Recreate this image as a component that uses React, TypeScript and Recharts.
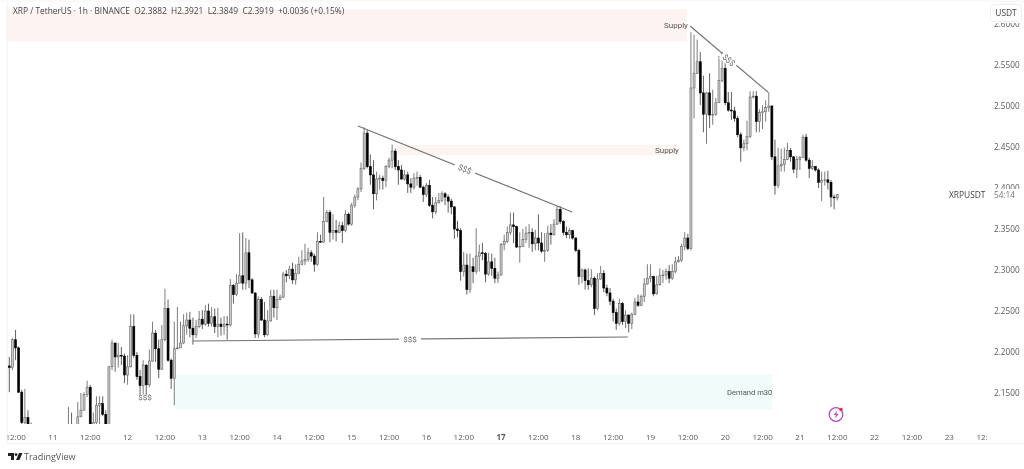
import { Bar, ComposedChart, ReferenceArea, ReferenceLine, XAxis, YAxis } from 'recharts'

// hourly candles, first one is 2h before the "12:00" tick on the 10th
const firstHour = -2
const firstOpen = 2.183

const closes = [
  2.181,2.215,2.205,2.151,2.114,2.120,2.107,2.099,2.085,2.070,
  2.060,2.055,2.065,2.075,2.070,2.080,2.085,2.090,2.095,2.105,
  2.104,2.107,2.121,2.129,2.148,2.157,2.110,2.114,2.135,2.137,
  2.124,2.110,2.182,2.211,2.194,2.196,2.195,2.172,2.182,2.231,
  2.196,2.170,2.159,2.184,2.160,2.189,2.223,2.204,2.179,2.215,
  2.253,2.190,2.168,2.204,2.205,2.211,2.232,2.239,2.229,2.221,
  2.231,2.240,2.234,2.250,2.235,2.243,2.231,2.234,2.231,2.234,
  2.233,2.281,2.270,2.284,2.293,2.284,2.321,2.288,2.272,2.222,
  2.264,2.239,2.221,2.238,2.268,2.254,2.264,2.267,2.295,2.293,
  2.301,2.288,2.296,2.307,2.311,2.313,2.321,2.317,2.307,2.335,
  2.334,2.359,2.370,2.346,2.348,2.346,2.354,2.348,2.368,2.356,
  2.379,2.389,2.399,2.424,2.467,2.426,2.416,2.393,2.411,2.412,
  2.409,2.426,2.434,2.445,2.426,2.422,2.411,2.416,2.405,2.401,
  2.412,2.413,2.401,2.392,2.403,2.379,2.371,2.382,2.385,2.393,
  2.389,2.384,2.377,2.350,2.348,2.298,2.306,2.276,2.304,2.298,
  2.317,2.321,2.320,2.295,2.310,2.302,2.290,2.294,2.331,2.335,
  2.346,2.355,2.353,2.328,2.329,2.337,2.345,2.346,2.332,2.339,
  2.333,2.323,2.324,2.345,2.343,2.356,2.374,2.359,2.346,2.343,
  2.348,2.339,2.324,2.292,2.300,2.287,2.282,2.290,2.253,2.289,
  2.296,2.278,2.272,2.262,2.248,2.235,2.259,2.237,2.245,2.235,
  2.246,2.261,2.257,2.268,2.283,2.290,2.292,2.271,2.282,2.293,
  2.294,2.298,2.290,2.298,2.310,2.312,2.329,2.339,2.326,2.522,
  2.540,2.554,2.516,2.490,2.516,2.489,2.490,2.504,2.531,2.546,
  2.504,2.495,2.494,2.485,2.465,2.449,2.454,2.463,2.511,2.512,
  2.481,2.492,2.493,2.498,2.500,2.438,2.403,2.427,2.429,2.435,
  2.446,2.438,2.423,2.435,2.437,2.462,2.434,2.424,2.426,2.422,
  2.407,2.409,2.410,2.407,2.389,2.388,2.3919,
]

const highs = [
  2.194,2.217,2.227,2.207,2.154,2.155,2.129,2.114,2.095,2.080,
  2.070,2.065,2.072,2.080,2.078,2.085,2.090,2.095,2.100,2.133,
  2.126,2.108,2.139,2.150,2.151,2.165,2.160,2.126,2.146,2.146,
  2.146,2.129,2.183,2.215,2.211,2.211,2.206,2.198,2.196,2.246,
  2.246,2.200,2.178,2.190,2.185,2.203,2.237,2.227,2.215,2.233,
  2.277,2.264,2.192,2.237,2.255,2.237,2.246,2.248,2.249,2.242,
  2.239,2.250,2.251,2.257,2.259,2.255,2.253,2.254,2.242,2.244,
  2.244,2.289,2.283,2.295,2.345,2.346,2.339,2.337,2.290,2.273,
  2.268,2.267,2.261,2.251,2.276,2.276,2.276,2.270,2.298,2.300,
  2.305,2.309,2.307,2.316,2.324,2.332,2.327,2.324,2.320,2.346,
  2.343,2.389,2.373,2.373,2.368,2.361,2.359,2.359,2.373,2.370,
  2.382,2.392,2.401,2.431,2.474,2.471,2.441,2.434,2.420,2.416,
  2.415,2.428,2.437,2.453,2.448,2.434,2.428,2.422,2.420,2.412,
  2.418,2.420,2.416,2.403,2.406,2.410,2.389,2.389,2.394,2.396,
  2.395,2.392,2.387,2.378,2.360,2.351,2.322,2.320,2.320,2.315,
  2.351,2.331,2.333,2.322,2.321,2.320,2.315,2.298,2.333,2.343,
  2.353,2.370,2.370,2.354,2.346,2.350,2.353,2.356,2.351,2.349,
  2.368,2.346,2.345,2.354,2.356,2.362,2.378,2.378,2.361,2.353,
  2.351,2.349,2.340,2.326,2.302,2.302,2.302,2.301,2.292,2.296,
  2.305,2.300,2.282,2.278,2.265,2.253,2.265,2.261,2.251,2.246,
  2.248,2.266,2.270,2.270,2.290,2.307,2.307,2.293,2.293,2.302,
  2.300,2.302,2.306,2.307,2.316,2.317,2.332,2.346,2.344,2.590,
  2.587,2.581,2.566,2.537,2.517,2.540,2.520,2.510,2.561,2.566,
  2.556,2.517,2.517,2.499,2.488,2.468,2.459,2.482,2.518,2.518,
  2.518,2.496,2.501,2.507,2.517,2.501,2.459,2.449,2.448,2.449,
  2.455,2.449,2.439,2.439,2.439,2.465,2.466,2.437,2.434,2.427,
  2.424,2.420,2.420,2.421,2.410,2.392,2.3921,
]

const lows = [
  2.151,2.178,2.190,2.150,2.112,2.107,2.105,2.096,2.075,2.055,
  2.050,2.045,2.055,2.060,2.060,2.070,2.075,2.080,2.085,2.102,
  2.102,2.102,2.110,2.121,2.129,2.145,2.107,2.110,2.110,2.112,
  2.122,2.107,2.107,2.178,2.176,2.181,2.184,2.162,2.160,2.181,
  2.193,2.166,2.148,2.148,2.148,2.157,2.188,2.188,2.168,2.178,
  2.213,2.188,2.155,2.135,2.203,2.205,2.210,2.221,2.218,2.209,
  2.217,2.229,2.228,2.232,2.231,2.231,2.223,2.218,2.220,2.221,
  2.215,2.231,2.259,2.268,2.284,2.276,2.276,2.278,2.271,2.217,
  2.217,2.238,2.218,2.220,2.237,2.242,2.239,2.263,2.266,2.285,
  2.289,2.283,2.282,2.295,2.306,2.306,2.310,2.310,2.298,2.305,
  2.333,2.333,2.358,2.334,2.337,2.335,2.345,2.333,2.346,2.354,
  2.354,2.376,2.385,2.395,2.422,2.424,2.404,2.374,2.385,2.398,
  2.398,2.401,2.424,2.424,2.422,2.404,2.410,2.409,2.394,2.394,
  2.398,2.403,2.400,2.383,2.389,2.377,2.363,2.368,2.381,2.383,
  2.379,2.370,2.368,2.338,2.340,2.287,2.292,2.270,2.272,2.284,
  2.295,2.298,2.312,2.285,2.293,2.293,2.284,2.284,2.293,2.324,
  2.333,2.343,2.333,2.327,2.309,2.328,2.333,2.327,2.322,2.324,
  2.324,2.321,2.310,2.322,2.331,2.342,2.355,2.356,2.342,2.339,
  2.338,2.337,2.322,2.282,2.284,2.276,2.276,2.279,2.245,2.251,
  2.288,2.273,2.268,2.257,2.237,2.227,2.232,2.233,2.229,2.224,
  2.228,2.245,2.255,2.256,2.261,2.282,2.285,2.268,2.270,2.281,
  2.284,2.288,2.284,2.288,2.296,2.309,2.310,2.324,2.324,2.324,
  2.485,2.539,2.501,2.468,2.454,2.473,2.477,2.488,2.504,2.529,
  2.501,2.493,2.483,2.481,2.462,2.432,2.445,2.446,2.461,2.509,
  2.468,2.468,2.472,2.481,2.493,2.434,2.392,2.400,2.420,2.420,
  2.434,2.432,2.418,2.412,2.422,2.437,2.432,2.412,2.422,2.420,
  2.400,2.384,2.403,2.398,2.377,2.374,2.3849,
]

const priceTicks = [2.15, 2.2, 2.25, 2.3, 2.35, 2.4, 2.45, 2.5, 2.55, 2.6]
const timeLabels = [
  '12:00', '11', '12:00', '12', '12:00', '13', '12:00', '14', '12:00', '15', '12:00', '16', '12:00', '17',
  '12:00', '18', '12:00', '19', '12:00', '20', '12:00', '21', '12:00', '22', '12:00', '23', '12:00',
]
const timeTicks = timeLabels.map((_, i) => i * 12)

// [fromHour, toHour, lowPrice, highPrice]
const supplyTop = [-2.76, 215.7, 2.579, 2.618]
const supplyMid = [122.5, 212.8, 2.4403, 2.4525]
const demand = [51.2, 243, 2.1305, 2.172]

// [hour, price, hour, price]
const trendMid = [110, 2.4756, 178.8, 2.3707]
const trendTop = [216.7, 2.5976, 241.7, 2.5171]
const trendLow = [57, 2.2134, 196.7, 2.2183]

const candles = closes.map((close, i) => ({
  hour: firstHour + i,
  open: i === 0 ? firstOpen : closes[i - 1],
  high: highs[i],
  low: lows[i],
  close,
}))

const FONT = '"Open Sans", sans-serif'
const NOTE_FONT = 'Roboto, sans-serif'
const GREY = '#5a5a5a'

function Candle(props: any) {
  const { x, width, y, height, payload } = props
  const { open, high, low, close } = payload
  const cx = x + width / 2
  const perPrice = height / (high - low)
  const top = y + (high - Math.max(open, close)) * perPrice
  const bodyHeight = Math.max(Math.abs(open - close) * perPrice, 0.8)
  const up = close >= open
  return (
    <g>
      <line x1={cx} x2={cx} y1={y} y2={y + height} stroke={up ? '#7c7c7c' : '#606060'} strokeWidth={1} />
      <rect
        x={cx - 1}
        y={top}
        width={2}
        height={bodyHeight}
        fill={up ? '#cccccc' : '#000'}
        stroke={up ? '#666' : '#000'}
        strokeWidth={0.6}
      />
    </g>
  )
}

function TimeTick({ x, y, payload, index }: any) {
  const label = timeLabels[index]
  return (
    <text x={x} y={y + 8} textAnchor="middle" fontSize={8} fontFamily={FONT} fill={GREY} fontWeight={label === '17' ? 700 : 400}>
      {payload ? label : ''}
    </text>
  )
}

function Note({ x, y, text, angle = 0, gap = 0 }: { x: number; y: number; text: string; angle?: number; gap?: number }) {
  return (
    <g transform={`rotate(${angle} ${x} ${y})`}>
      {gap > 0 && <rect x={x - gap / 2} y={y - 5} width={gap} height={10} fill="#fff" />}
      <text x={x} y={y + 3} textAnchor="middle" fontSize={8} fontFamily={NOTE_FONT} fill="#666">
        {text}
      </text>
    </g>
  )
}

export default function App() {
  return (
    <div style={{ position: 'fixed', left: 0, top: 0, width: 1024, height: 469, background: '#fff', overflow: 'hidden', filter: 'blur(0.4px)' }}>
      <ComposedChart width={1024} height={469} data={candles} margin={{ top: 5, right: 0, bottom: 0, left: 7 }}>
        <ReferenceArea x1={supplyTop[0]} x2={supplyTop[1]} y1={supplyTop[2]} y2={supplyTop[3]} fill="#fdf4f2" fillOpacity={1} stroke="none" />
        <ReferenceArea x1={supplyMid[0]} x2={supplyMid[1]} y1={supplyMid[2]} y2={supplyMid[3]} fill="#fdf4f2" fillOpacity={1} stroke="none" />
        <ReferenceArea x1={demand[0]} x2={demand[1]} y1={demand[2]} y2={demand[3]} fill="#f0fbfa" fillOpacity={1} stroke="none" />
        <XAxis
          dataKey="hour"
          type="number"
          domain={[-2.76, 312.1]}
          allowDataOverflow
          ticks={timeTicks}
          interval={0}
          height={45}
          axisLine={false}
          tickLine={false}
          tick={<TimeTick />}
        />
        <YAxis
          orientation="right"
          domain={[2.1122, 2.6232]}
          allowDataOverflow
          ticks={priceTicks}
          interval={0}
          width={37}
          axisLine={false}
          tickLine={false}
          tickSize={5}
          tickFormatter={(v: number) => v.toFixed(4)}
          tick={{ fontSize: 8.2, fontFamily: FONT, fill: GREY }}
        />
        <Bar dataKey={(d: any) => [d.low, d.high]} barSize={3} shape={<Candle />} isAnimationActive={false} />
        {[trendMid, trendTop, trendLow].map((t, i) => (
          <ReferenceLine
            key={i}
            segment={[{ x: t[0], y: t[1] }, { x: t[2], y: t[3] }]}
            stroke="#707070"
            strokeWidth={1.1}
          />
        ))}
      </ComposedChart>

      {/* notes, header and the bits of TradingView chrome */}
      <svg width={1024} height={469} style={{ position: 'absolute', left: 0, top: 0 }}>
        <rect x={0} y={425} width={7} height={18} fill="#fff" />
        <rect x={987} y={425} width={37} height={18} fill="#fff" />
        <line x1={7} x2={7} y1={2} y2={443} stroke="#f2f2f2" />
        <line x1={7} x2={1024} y1={443.5} y2={443.5} stroke="#f0f0f0" />
        <line x1={0} x2={1024} y1={1} y2={1} stroke="#f4f4f4" />

        <text x={13} y={14} fontSize={8.35} fontFamily={FONT} fill="#444" style={{ whiteSpace: 'pre' }}>
          {'XRP / TetherUS · 1h · BINANCE  O2.3882  H2.3921  L2.3849  C2.3919  +0.0036 (+0.15%)'}
        </text>
        <text x={664} y={28} fontSize={8} fontFamily={NOTE_FONT} fill="#555">Supply</text>
        <text x={655} y={153} fontSize={8} fontFamily={NOTE_FONT} fill="#555">Supply</text>
        <text x={727} y={395} fontSize={7.6} fontFamily={NOTE_FONT} fill="#555">Demand m30</text>

        <Note x={465} y={169} text="$$$" angle={22} gap={22} />
        <Note x={729} y={60} text="$$$" angle={40} gap={18} />
        <Note x={410} y={339} text="$$$" gap={22} />
        <Note x={145} y={397} text="$$$" />

        <rect x={988} y={3} width={36} height={20} fill="#fff" />
        <rect x={990.5} y={4.5} width={31} height={17} rx={3} fill="#fff" stroke="#eeeeee" />
        <text x={1006} y={16} textAnchor="middle" fontSize={8.4} fontFamily={FONT} fill="#444">USDT</text>

        <rect x={945} y={189} width={79} height={14} fill="#fff" />
        <text x={949} y={198} fontSize={8.4} fontFamily={FONT} fill="#444">XRPUSDT</text>
        <text x={994} y={198} fontSize={8.2} fontFamily={FONT} fill="#777">54:14</text>

        <circle cx={836} cy={414.5} r={6.8} fill="none" stroke="#b04fc8" strokeWidth={1.3} />
        <path d="M837.5 410.5 L833.5 415 H836 L834.8 418.5 L838.8 414 H836.3 Z" fill="#b04fc8" />
        <circle cx={841} cy={409.5} r={1.8} fill="#f0304a" />

        <path d="M8 453 H14 V460 H11 V456 H8 Z" fill="#222" />
        <circle cx={16} cy={454.6} r={1.4} fill="#222" />
        <path d="M19 453 H22.5 L19.5 460 H16 Z" fill="#222" />
        <text x={24} y={460} fontSize={9} fontFamily={FONT} fill="#555">TradingView</text>
      </svg>
    </div>
  )
}
